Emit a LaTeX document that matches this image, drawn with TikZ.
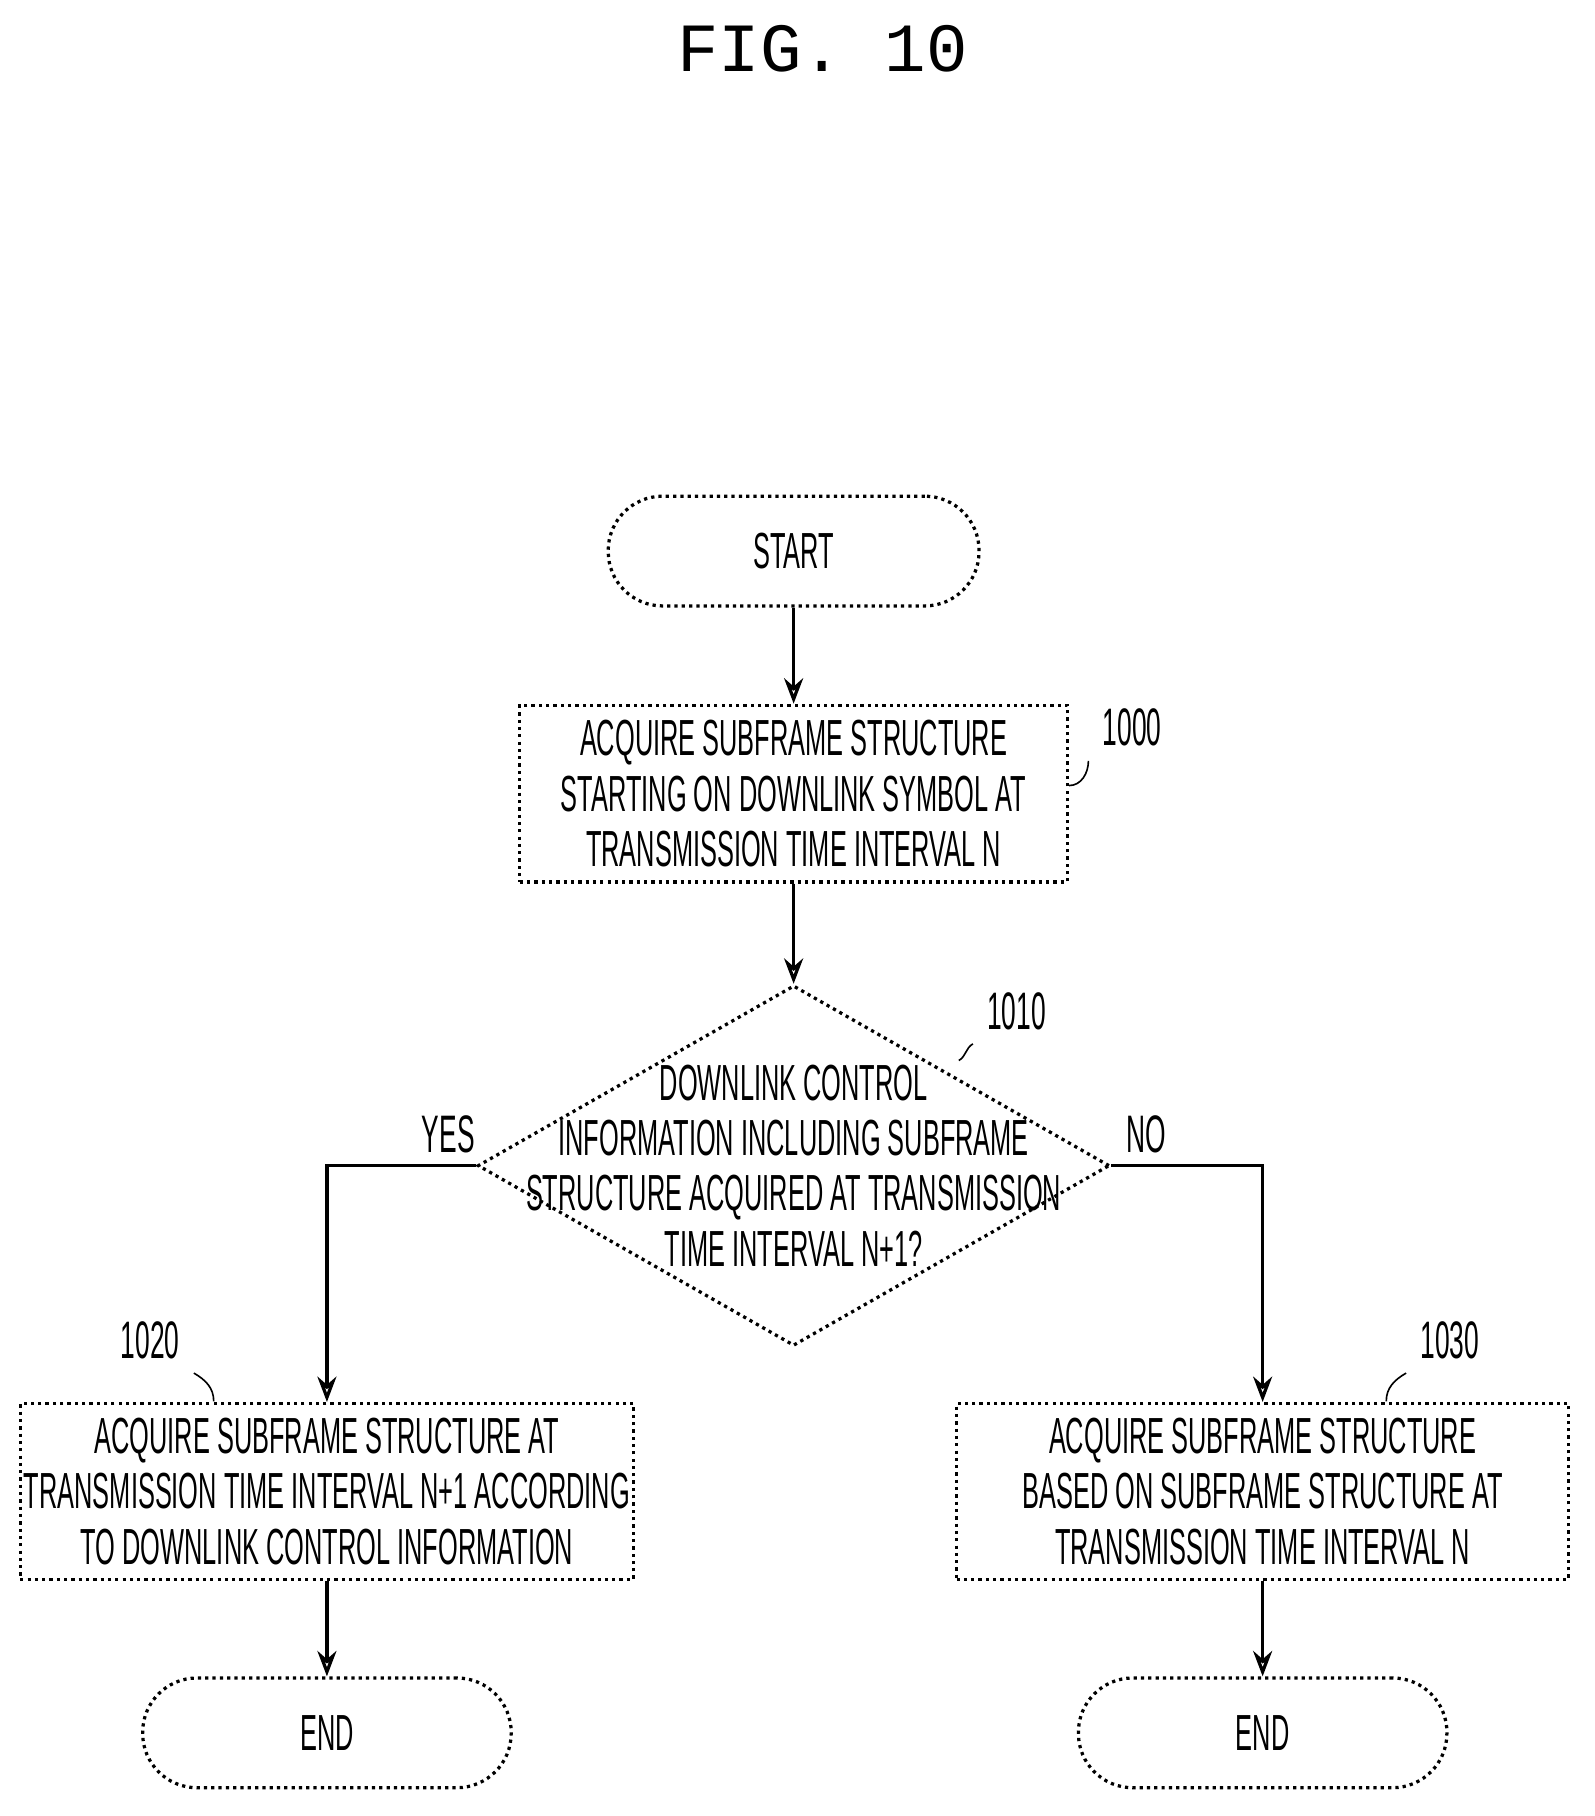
\documentclass[tikz,border=0pt]{standalone}
\usepackage{fontspec}
\setmainfont{Liberation Sans}[FakeStretch=0.5]
\newfontfamily\figfont{Liberation Mono}
\usetikzlibrary{shapes.geometric,arrows.meta}
\tikzset{
    stepbox/.style = {draw, thick, densely dotted, align=center, inner sep=0pt,
        font=\fontsize{12.5}{13.6}\selectfont},
    steptext/.style = {align=center, inner sep=0pt,
        font=\fontsize{12.5}{13.6}\selectfont},
    term/.style = {draw, thick, densely dotted, rounded corners=0.47cm,
        font=\fontsize{12.5}{14}\selectfont},
    flow/.style = {thick, -{Stealth[length=2.2mm,open]}},
    tag/.style = {font=\fontsize{13}{14}\selectfont},
}

\begin{document}
\begin{tikzpicture}[x=1cm,y=1cm]
    \useasboundingbox (0,0) rectangle (13.8,-15.72);

    \node[font=\figfont\fontsize{17}{19}\selectfont] (fig) at (7.12,-0.42) {FIG. 10};

    \node[term, minimum width=3.21cm, minimum height=0.95cm] (start) at (6.87,-4.77) {START};

    \node[stepbox, minimum width=4.74cm, minimum height=1.53cm] (s1000) at (6.87,-6.87)
        {ACQUIRE SUBFRAME STRUCTURE\\STARTING ON DOWNLINK SYMBOL AT\\TRANSMISSION TIME INTERVAL N};

    \node[draw, thick, densely dotted, diamond, aspect=1.75, inner sep=0pt,
        minimum width=5.47cm, minimum height=3.12cm] (d1010) at (6.87,-10.09) {};
    \node[steptext] (t1010) at (d1010.center)
        {DOWNLINK CONTROL\\INFORMATION INCLUDING SUBFRAME\\STRUCTURE ACQUIRED AT TRANSMISSION\\TIME INTERVAL N+1?};

    \node[stepbox, minimum width=5.31cm, minimum height=1.52cm] (s1020) at (2.83,-12.91)
        {ACQUIRE SUBFRAME STRUCTURE AT\\TRANSMISSION TIME INTERVAL N+1 ACCORDING\\TO DOWNLINK CONTROL INFORMATION};
    \node[stepbox, minimum width=5.30cm, minimum height=1.52cm] (s1030) at (10.93,-12.91)
        {ACQUIRE SUBFRAME STRUCTURE\\BASED ON SUBFRAME STRUCTURE AT\\TRANSMISSION TIME INTERVAL N};

    \node[term, minimum width=3.19cm, minimum height=0.95cm] (endl) at (2.83,-15.00) {END};
    \node[term, minimum width=3.19cm, minimum height=0.95cm] (endr) at (10.93,-15.00) {END};

    % reference numerals
    \node[tag] (n1000) at (9.80,-6.30) {1000};
    \node[tag] (n1010) at (8.80,-8.75) {1010};
    \node[tag] (n1020) at (1.30,-11.60) {1020};
    \node[tag] (n1030) at (12.55,-11.60) {1030};
    \draw[thin] (n1000.south west) to[out=-90,in=0] (s1000.east |- 0,-6.80);
    \draw[thin] (n1010.south west) to[out=-150,in=30] (8.30,-9.18);
    \draw[thin] (n1020.south east) to[out=-30,in=90] (1.85,-12.13);
    \draw[thin] (n1030.south west) to[out=-150,in=90] (12.00,-12.13);

    \node[tag] (yes) at (3.88,-9.82) {YES};
    \node[tag] (no) at (9.92,-9.82) {NO};

    \draw[flow] (start) -- (s1000);
    \draw[flow] (s1000) -- (d1010);
    \draw[flow] (d1010.west) -| (s1020.north);
    \draw[flow] (d1010.east) -| (s1030.north);
    \draw[flow] (s1020) -- (endl);
    \draw[flow] (s1030) -- (endr);
\end{tikzpicture}
\end{document}
